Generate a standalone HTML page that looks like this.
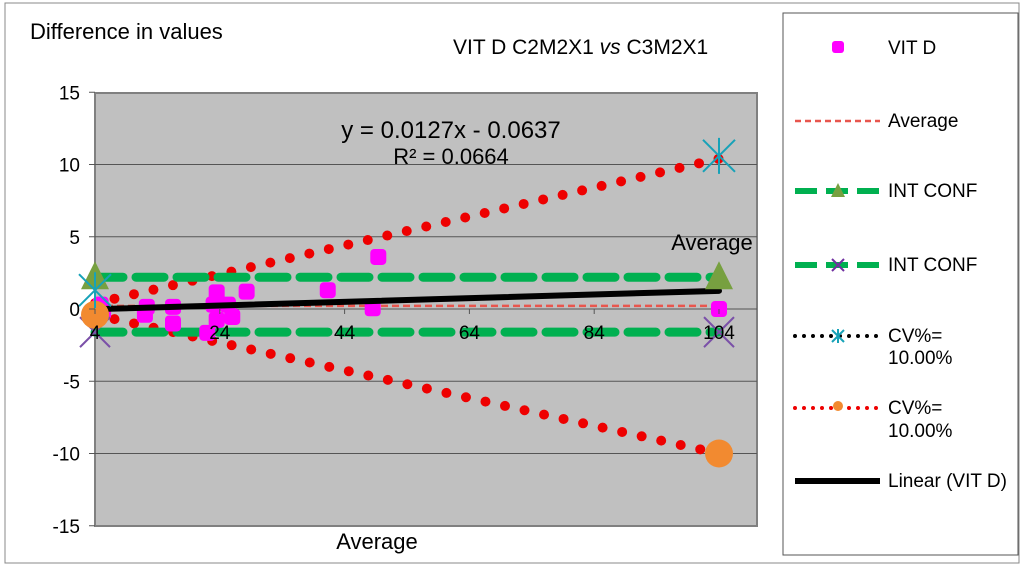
<!DOCTYPE html>
<html><head><meta charset="utf-8"><style>
body{margin:0;background:#fff;font-family:"Liberation Sans",sans-serif}
svg text{font-family:"Liberation Sans",sans-serif}
</style></head><body>
<svg width="1024" height="568">
<rect x="5" y="3" width="1014" height="560" fill="#fff" stroke="#888"/>
<rect x="95" y="93" width="662" height="433" fill="#c0c0c0" stroke="#808080" stroke-width="2"/>
<g id="grid"></g><g id="series"></g><g id="axes"></g>
<text x="30" y="39" font-size="22">Difference in values</text>
<text x="453" y="54" font-size="21">VIT D C2M2X1 <tspan font-style="italic">vs</tspan> C3M2X1</text>
<text x="377" y="549" font-size="22" text-anchor="middle">Average</text>
<text x="712" y="250" font-size="22" text-anchor="middle">Average</text>
<text x="451" y="138" font-size="24" text-anchor="middle">y = 0.0127x - 0.0637</text>
<text x="451" y="164" font-size="22" text-anchor="middle">R² = 0.0664</text>
<g>
<rect x="783" y="13" width="235" height="542" fill="#fff" stroke="#555"/>
<rect x="832" y="41" width="12" height="12" rx="3" fill="#f0f"/>
<text x="888" y="54" font-size="19">VIT D</text>
<line x1="795" y1="121" x2="880" y2="121" stroke="#e8554d" stroke-width="2.5" stroke-dasharray="6,4"/>
<text x="888" y="127" font-size="19">Average</text>
<line x1="795" y1="191" x2="880" y2="191" stroke="#00b050" stroke-width="6" stroke-dasharray="22,9"/>
<polygon points="838,183 845,197 831,197" fill="#77a040"/>
<text x="888" y="197" font-size="19">INT CONF</text>
<line x1="795" y1="265" x2="880" y2="265" stroke="#00b050" stroke-width="6" stroke-dasharray="22,9"/>
<path d="M832,259 L844,271 M844,259 L832,271" stroke="#7030a0" stroke-width="2"/>
<text x="888" y="271" font-size="19">INT CONF</text>
<line x1="795" y1="336" x2="880" y2="336" stroke="#000" stroke-width="4" stroke-dasharray="0,9" stroke-linecap="round"/>
<path d="M832,330 L844,342 M844,330 L832,342 M838,329 L838,343" stroke="#17a2b8" stroke-width="2"/>
<text x="888" y="342" font-size="19">CV%=</text>
<text x="888" y="364" font-size="19">10.00%</text>
<line x1="795" y1="408" x2="880" y2="408" stroke="#e00" stroke-width="4" stroke-dasharray="0,9" stroke-linecap="round"/>
<circle cx="838" cy="406" r="5" fill="#f28a30"/>
<text x="888" y="414" font-size="19">CV%=</text>
<text x="888" y="437" font-size="19">10.00%</text>
<line x1="795" y1="481" x2="880" y2="481" stroke="#000" stroke-width="6"/>
<text x="888" y="487" font-size="19">Linear (VIT D)</text>
</g>
</svg>
<script>
const xTicks=[4,24,44,64,84,104];
const yTicks=[15,10,5,0,-5,-10,-15];
const vitX=[4.9,5.3,12.3,12,16.5,16.5,23.5,23,25.3,26,22,23.5,28.3,41.3,48.5,49.4,104];
const vitY=[0.3,-0.2,0.15,-0.4,0.15,-1.0,1.15,0.3,0.3,-0.55,-1.65,-0.75,1.2,1.3,0.05,3.6,0];
const cvX=[4,104];
const cvUpper=[0.4,10.4];
const cvLower=[-0.4,-10];
const confX=[4,104];
const confUpper=[2.2,2.2];
const confLower=[-1.6,-1.6];
const avgX=[4,104];
const avgY=[0.22,0.22];
const trendSlope=0.0127, trendIntercept=-0.0637;
const X=v=>95+(v-4)*6.24;
const Y=v=>309-v*14.45;
const NS='http://www.w3.org/2000/svg';
function mk(p,t,a){const e=document.createElementNS(NS,t);for(const k in a)e.setAttribute(k,a[k]);p.appendChild(e);return e;}
const grid=document.getElementById('grid'),axes=document.getElementById('axes'),s=document.getElementById('series');
yTicks.forEach(v=>{
 if(v!==15&&v!==-15){const g=mk(grid,'line',{x1:95,x2:757,y1:Y(v),y2:Y(v),stroke:'#555','stroke-width':1});
 
 }
 mk(axes,'line',{x1:89,x2:95,y1:Y(v),y2:Y(v),stroke:'#555'});
 const t=mk(axes,'text',{x:80,y:Y(v)+7,'font-size':19,'text-anchor':'end'});t.textContent=v;
 
 
});
xTicks.forEach(v=>{
 mk(axes,'line',{x1:X(v),x2:X(v),y1:Y(0),y2:Y(0)+5,stroke:'#555'});
 const t=mk(axes,'text',{x:X(v),y:Y(0)+30,'font-size':19,'text-anchor':'middle'});t.textContent=v;
 
 
});
function poly(xs,ys,attrs,name){const e=mk(s,'polyline',Object.assign({points:xs.map((x,i)=>X(x)+','+Y(ys[i])).join(' '),fill:'none'},attrs));
 
 return e;}
poly(cvX,cvUpper,{stroke:'#e00','stroke-width':10,'stroke-dasharray':'0,20','stroke-linecap':'round'},'cv-upper-line');
poly(cvX,cvLower,{stroke:'#e00','stroke-width':10,'stroke-dasharray':'0,20','stroke-linecap':'round'},'cv-lower-line');
poly(avgX,avgY,{stroke:'#e8554d','stroke-width':2.5,'stroke-dasharray':'7,4'},'average-line');
poly(confX,confUpper,{stroke:'#00b050','stroke-width':9,'stroke-dasharray':'28,13','stroke-linecap':'round'},'int-conf-upper-line');
poly(confX,confLower,{stroke:'#00b050','stroke-width':9,'stroke-dasharray':'28,13','stroke-linecap':'round'},'int-conf-lower-line');
vitX.forEach((x,i)=>{const r=mk(s,'rect',{x:X(x)-8,y:Y(vitY[i])-8,width:16,height:16,rx:4,fill:'#f0f'});
 
 });
poly(cvX,cvX.map(x=>trendSlope*x+trendIntercept),{stroke:'#000','stroke-width':6,'stroke-linecap':'round'},'trend-line');
confX.forEach((x,i)=>{const px=X(x),py=Y(confUpper[i]);
 const t=mk(s,'polygon',{points:`${px},${py-16} ${px+14},${py+12} ${px-14},${py+12}`,fill:'#77a040'});
 
 
 const qy=Y(confLower[i]);
 const c=mk(s,'path',{d:`M${px-15},${qy-15}L${px+15},${qy+15}M${px+15},${qy-15}L${px-15},${qy+15}`,stroke:'#7a50a8','stroke-width':2});
 
 
 const oy=Y(cvLower[i]);
 const o=mk(s,'circle',{cx:px,cy:oy,r:14,fill:'#f28a30'});
 
 
 const ay=Y(i===0?1.3:10.6);
 const a=mk(s,'path',{d:`M${px-16},${ay-16}L${px+16},${ay+16}M${px+16},${ay-16}L${px-16},${ay+16}M${px},${ay-18}L${px},${ay+18}`,stroke:'#17a2b8','stroke-width':2});
 
 
});
</script>
</body></html>
